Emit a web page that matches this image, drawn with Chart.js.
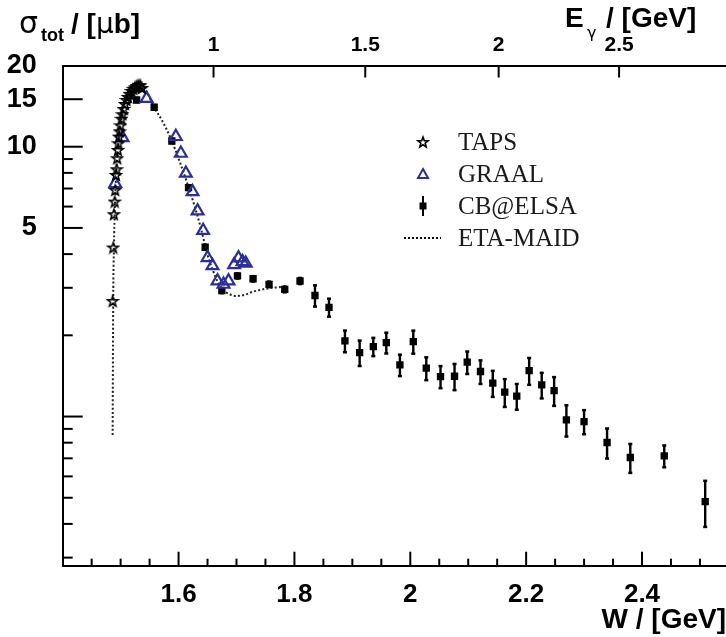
<!DOCTYPE html>
<html>
<head>
<meta charset="utf-8">
<script src="https://cdn.jsdelivr.net/npm/chart.js@4.4.0/dist/chart.umd.min.js"></script>
<style>
  html, body { margin: 0; padding: 0; background: #fff; }
</style>
</head>
<body>
<canvas id="myChart" width="726" height="637"></canvas>
<script>
// centre-of-mass energy W [GeV] and total cross section [µb]
const tapsW = [1.4862, 1.4872, 1.4884, 1.4897, 1.4907, 1.4919, 1.4931, 1.4941, 1.4953, 1.4962, 1.4971,
  1.4983, 1.4997, 1.5014, 1.5031, 1.5052, 1.5074, 1.5100, 1.5126, 1.5155, 1.5186, 1.5217, 1.5247,
  1.5278, 1.5309, 1.5340, 1.5367];
const tapsSigma = [2.68, 4.23, 5.62, 6.26, 6.91, 7.86, 8.25, 9.06, 9.72, 10.3, 10.9,
  11.4, 12.0, 12.7, 13.2, 13.8, 14.4, 14.9, 15.3, 15.7, 16.1, 16.4, 16.6,
  16.8, 16.9, 16.9, 16.5];

const graalW = [1.4907, 1.5034, 1.5448, 1.5953, 1.6040, 1.6126, 1.6241, 1.6328, 1.6424, 1.6500,
  1.6586, 1.6672, 1.6776, 1.6862, 1.6959, 1.7034, 1.7103, 1.7160];
const graalSigma = [7.3, 10.8, 15.1, 10.9, 9.45, 7.97, 6.81, 5.78, 4.89, 3.88,
  3.62, 3.18, 3.09, 3.18, 3.65, 3.87, 3.75, 3.70];

const cbW = [1.5276, 1.5579, 1.5884, 1.6172, 1.6459, 1.6747, 1.7017, 1.7286, 1.7562, 1.7833,
  1.8097, 1.8355, 1.8597, 1.8872, 1.9126, 1.9362, 1.9586, 1.9821, 2.0052, 2.0276,
  2.0522, 2.0764, 2.0983, 2.1212, 2.1424, 2.1631, 2.1838, 2.2052, 2.2269, 2.2483,
  2.2695, 2.3000, 2.3397, 2.3798, 2.4384, 2.5091];
const cbSigma = [14.9, 14.0, 10.5, 7.05, 4.24, 2.93, 3.32, 3.24, 3.09, 2.96,
  3.18, 2.81, 2.54, 1.907, 1.726, 1.816, 1.879, 1.554, 1.896, 1.511,
  1.406, 1.41, 1.59, 1.468, 1.33, 1.231, 1.19, 1.48, 1.31, 1.248,
  0.972, 0.958, 0.801, 0.705, 0.715, 0.484];
const cbErr = [0.3, 0.3, 0.2, 0.15, 0.1, 0.07, 0.08, 0.08, 0.08, 0.08,
  0.09, 0.26, 0.2, 0.18, 0.19, 0.145, 0.17, 0.145, 0.19, 0.15,
  0.135, 0.16, 0.155, 0.15, 0.15, 0.148, 0.133, 0.172, 0.145, 0.155,
  0.131, 0.1, 0.104, 0.088, 0.068, 0.095];

const maidW = [1.4862, 1.4872, 1.4884, 1.4902, 1.4928, 1.4953, 1.4988, 1.5040, 1.5109, 1.5195,
  1.5281, 1.5350, 1.5453, 1.5579, 1.5729, 1.5884, 1.6022, 1.6160, 1.6281, 1.6384,
  1.6500, 1.6591, 1.6678, 1.6764, 1.6867, 1.6988, 1.7126, 1.7281, 1.7453, 1.7626, 1.7781];
const maidSigma = [0.855, 2.71, 4.21, 6.08, 8.2, 9.72, 11.73, 13.33, 14.9, 16.08,
  16.78, 16.93, 15.94, 14.0, 12.35, 10.5, 8.78, 7.21, 5.98, 5.0,
  3.97, 3.49, 3.15, 2.95, 2.85, 2.80, 2.82, 2.90, 2.96, 3.0, 3.02];

// axes
const wMajorTicks = [1.6, 1.8, 2, 2.2, 2.4];
const wMinorTicks = [1.45, 1.5, 1.55, 1.65, 1.7, 1.75, 1.85, 1.9, 1.95, 2.05, 2.1, 2.15,
  2.25, 2.3, 2.35, 2.45, 2.5];
const eTicks = [1, 1.5, 2, 2.5];
const yLabelTicks = [5, 10, 15, 20];
const yMajorTicks = [1, 5, 10, 15];
const yMinorTicks = [0.3, 0.4, 0.5, 0.6, 0.7, 0.8, 0.9, 2, 3, 4, 6, 7, 8, 9];

const mp = 0.938272;
const wFromE = e => Math.sqrt(mp * mp + 2 * mp * e);

const blue = '#2c2f98';
const sans = '"Liberation Sans", Arial, sans-serif';
const serif = '"Liberation Serif", "Times New Roman", serif';

function makeStar(size, lw) {
  const c = document.createElement('canvas');
  c.width = size; c.height = size;
  const g = c.getContext('2d');
  const R = size / 2 - lw, r = R * 0.42;
  g.beginPath();
  for (let i = 0; i < 10; i++) {
    const a = -Math.PI / 2 + i * Math.PI / 5;
    const rr = i % 2 ? r : R;
    g.lineTo(size / 2 + rr * Math.cos(a), size / 2 + 0.5 + rr * Math.sin(a));
  }
  g.closePath();
  g.strokeStyle = '#000';
  g.lineWidth = lw;
  g.stroke();
  return c;
}
const starImg = makeStar(14, 1.6);

const toXY = (xs, ys) => xs.map((v, i) => ({x: v, y: ys[i]}));

const errorBars = {
  id: 'errorBars',
  beforeDatasetsDraw(chart) {
    const {ctx, scales: {x, y}} = chart;
    ctx.save();
    ctx.strokeStyle = '#000';
    ctx.fillStyle = '#000';
    ctx.lineWidth = 2.4;
    cbW.forEach((w, i) => {
      const px = x.getPixelForValue(w);
      const y1 = y.getPixelForValue(cbSigma[i] + cbErr[i]);
      const y2 = y.getPixelForValue(cbSigma[i] - cbErr[i]);
      ctx.beginPath();
      ctx.moveTo(px, y1);
      ctx.lineTo(px, y2);
      ctx.stroke();
      ctx.fillRect(px - 2, y1 - 1, 4, 2.5);
      ctx.fillRect(px - 2, y2 - 1.5, 4, 2.5);
    });
    ctx.restore();
  }
};

const frameTicks = {
  id: 'frameTicks',
  afterDraw(chart) {
    const {ctx, chartArea: a, scales: {x, y}} = chart;
    ctx.save();
    ctx.strokeStyle = '#000';
    ctx.lineWidth = 2;
    const seg = (x1, y1, x2, y2) => { ctx.beginPath(); ctx.moveTo(x1, y1); ctx.lineTo(x2, y2); ctx.stroke(); };
    wMajorTicks.forEach(v => { const p = x.getPixelForValue(v); seg(p, a.bottom, p, a.bottom - 14); });
    wMinorTicks.forEach(v => { const p = x.getPixelForValue(v); seg(p, a.bottom, p, a.bottom - 7); });
    eTicks.forEach(e => { const p = x.getPixelForValue(wFromE(e)); seg(p, a.top, p, a.top + 12); });
    yMajorTicks.forEach(v => { const p = y.getPixelForValue(v); seg(a.left, p, a.left + 20, p); });
    yMinorTicks.forEach(v => { const p = y.getPixelForValue(v); seg(a.left, p, a.left + 10, p); });

    // axis titles
    ctx.fillStyle = '#000';
    ctx.textBaseline = 'alphabetic';
    ctx.textAlign = 'left';
    ctx.font = '30px "DejaVu Sans", sans-serif';
    ctx.fillText('σ', 19, 33);
    ctx.font = 'bold 18px ' + sans;
    ctx.fillText('tot', 41, 41);
    ctx.font = 'bold 28px ' + sans;
    ctx.fillText('/ [', 71, 33);
    let px = 71 + ctx.measureText('/ [').width;
    ctx.font = '28px "DejaVu Sans", sans-serif';
    ctx.fillText('μ', px, 33);
    px += ctx.measureText('μ').width;
    ctx.font = 'bold 28px ' + sans;
    ctx.fillText('b]', px, 33);

    ctx.font = 'bold 28px ' + sans;
    ctx.fillText('E', 565, 27);
    ctx.font = '16px "DejaVu Sans", sans-serif';
    ctx.fillText('γ', 587, 38);
    ctx.font = 'bold 28px ' + sans;
    ctx.fillText('/ [GeV]', 606, 27);

    // legend
    const lx = 423, tx = 458, rows = [142, 174, 206, 238];
    ctx.drawImage(starImg, lx - 7, rows[0] - 7);
    ctx.strokeStyle = blue;
    ctx.lineWidth = 2;
    ctx.beginPath();
    ctx.moveTo(lx, rows[1] - 5); ctx.lineTo(lx + 5, rows[1] + 4); ctx.lineTo(lx - 5, rows[1] + 4); ctx.closePath();
    ctx.stroke();
    ctx.strokeStyle = '#000';
    ctx.lineWidth = 2;
    seg(lx, rows[2] - 10, lx, rows[2] + 10);
    ctx.fillStyle = '#000';
    ctx.fillRect(lx - 3.5, rows[2] - 3.5, 7, 7);
    ctx.setLineDash([2, 2]);
    seg(404, rows[3], 441, rows[3]);
    ctx.setLineDash([]);
    ctx.fillStyle = '#1a1a1a';
    ctx.font = '25px ' + serif;
    ctx.textBaseline = 'middle';
    ['TAPS', 'GRAAL', 'CB@ELSA', 'ETA-MAID'].forEach((t, i) => ctx.fillText(t, tx, rows[i] + 1));
    ctx.restore();
  }
};

const ctx = document.getElementById('myChart').getContext('2d');
const myChart = new Chart(ctx, {
  type: 'scatter',
  data: {
    datasets: [
      { label: 'TAPS', data: toXY(tapsW, tapsSigma), pointStyle: starImg, pointRadius: 7 },
      { label: 'GRAAL', data: toXY(graalW, graalSigma), pointStyle: 'triangle', pointRadius: 6.8,
        borderColor: blue, backgroundColor: 'rgba(0,0,0,0)', borderWidth: 2.2 },
      { label: 'CB@ELSA', data: toXY(cbW, cbSigma), pointStyle: 'rect', pointRadius: 5.2,
        backgroundColor: '#000', borderColor: '#000', borderWidth: 0 },
      { label: 'ETA-MAID', type: 'line', data: toXY(maidW, maidSigma), showLine: true, pointRadius: 0,
        borderColor: '#222', borderWidth: 2, borderDash: [2, 2.2], cubicInterpolationMode: 'monotone', fill: false }
    ]
  },
  options: {
    responsive: false,
    devicePixelRatio: 1,
    animation: false,
    layout: { padding: 0, autoPadding: false },
    plugins: { legend: { display: false }, tooltip: { enabled: false } },
    scales: {
      x: {
        type: 'linear', position: 'bottom', min: 1.4, max: 2.545,
        afterFit: s => { s.height = 71.3; },
        afterBuildTicks: s => { s.ticks = wMajorTicks.map(v => ({value: v})); },
        grid: { display: false },
        border: { display: true, color: '#000', width: 2 },
        ticks: { color: '#000', padding: 6, maxRotation: 0, autoSkip: false,
          font: { family: sans, size: 26, weight: 'bold' }, callback: v => String(v) },
        title: { display: true, text: 'W / [GeV]', align: 'end', color: '#000',
          font: { family: sans, size: 28, weight: 'bold' }, padding: { top: 0, bottom: 0 } }
      },
      x2: {
        type: 'linear', position: 'top', min: 1.4, max: 2.545,
        afterFit: s => { s.height = 65.5; },
        afterBuildTicks: s => { s.ticks = eTicks.map(e => ({value: wFromE(e)})); },
        grid: { display: false },
        border: { display: true, color: '#000', width: 2 },
        ticks: { color: '#000', padding: 0, maxRotation: 0, autoSkip: false,
          font: { family: sans, size: 21, weight: 'bold' },
          callback: (v, i) => String(eTicks[i]) }
      },
      y: {
        type: 'logarithmic', position: 'left', min: 0.28, max: 20,
        afterFit: s => { s.width = 62.7; },
        afterBuildTicks: s => { s.ticks = yLabelTicks.map(v => ({value: v})); },
        grid: { display: false },
        border: { display: true, color: '#000', width: 2 },
        ticks: { color: '#000', padding: 18, autoSkip: false,
          font: { family: sans, size: 27, weight: 'bold' }, callback: v => String(v) }
      }
    }
  },
  plugins: [errorBars, frameTicks]
});
</script>
</body>
</html>
